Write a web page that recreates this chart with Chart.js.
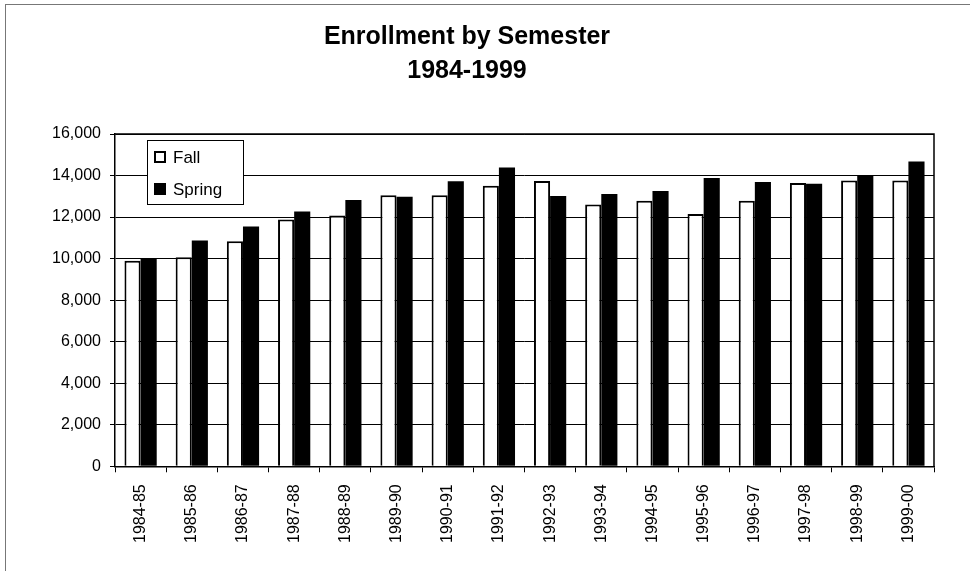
<!DOCTYPE html>
<html>
<head>
<meta charset="utf-8">
<script src="https://cdn.jsdelivr.net/npm/chart.js@4/dist/chart.umd.min.js"></script>
<style>
  html, body { margin: 0; padding: 0; background: #fff; }
  #wrap { position: relative; width: 970px; height: 571px; overflow: hidden; }
  #frame { position: absolute; left: 5px; top: 4px; width: 1000px; height: 600px;
           border-left: 1px solid #777; border-top: 1px solid #777; pointer-events: none; }
  canvas { position: absolute; left: 0; top: 0; }
</style>
</head>
<body>
<div id="wrap">
  <canvas id="c" width="970" height="571"></canvas>
  <div id="frame"></div>
</div>
<script>
const categories = ["1984-85","1985-86","1986-87","1987-88","1988-89","1989-90","1990-91","1991-92",
                    "1992-93","1993-94","1994-95","1995-96","1996-97","1997-98","1998-99","1999-00"];
const fallValues   = [9900, 10060, 10830, 11880, 12070, 13050, 13050, 13510, 13740, 12610, 12790, 12150, 12790, 13640, 13760, 13760];
const springValues = [9980, 10870, 11550, 12270, 12820, 12980, 13720, 14390, 13010, 13110, 13250, 13880, 13690, 13610, 13990, 14680];
const yTicks = [0, 2000, 4000, 6000, 8000, 10000, 12000, 14000, 16000];
const titleLines = ["Enrollment by Semester", "1984-1999"];

const FONT = "Arial, 'Liberation Sans', Helvetica, sans-serif";

const frameAndLegend = {
  id: 'frameAndLegend',
  afterDatasetsDraw(chart) {
    const {ctx, chartArea: a} = chart;
    ctx.save();
    // plot area border (top & right)
    ctx.strokeStyle = '#000';
    ctx.lineWidth = 1.5;
    ctx.beginPath();
    ctx.moveTo(a.left, a.top);
    ctx.lineTo(a.right, a.top);
    ctx.lineTo(a.right, a.bottom);
    ctx.stroke();
    // legend
    const lx = a.left + 32, ly = a.top + 6, lw = 96, lh = 64;
    ctx.fillStyle = '#fff';
    ctx.fillRect(lx, ly, lw, lh);
    ctx.lineWidth = 1;
    ctx.strokeStyle = '#000';
    ctx.strokeRect(lx + 0.5, ly + 0.5, lw, lh);
    ctx.font = "17px " + FONT;
    ctx.textBaseline = 'middle';
    ctx.textAlign = 'left';
    chart.data.datasets.forEach((ds, i) => {
      const cy = ly + 17 + i * 32;
      const bx = lx + 7;
      if (i === 0) {
        ctx.fillStyle = '#fff';
        ctx.fillRect(bx, cy - 6, 12, 12);
        ctx.lineWidth = 2;
        ctx.strokeRect(bx + 1, cy - 5, 10, 10);
      } else {
        ctx.fillStyle = '#000';
        ctx.fillRect(bx, cy - 6, 12, 12);
      }
      ctx.fillStyle = '#000';
      ctx.fillText(ds.label, bx + 19, cy + 1);
    });
    ctx.restore();
  }
};

new Chart(document.getElementById('c'), {
  type: 'bar',
  data: {
    labels: categories,
    datasets: [
      { label: 'Fall', data: fallValues, backgroundColor: '#fff', borderColor: '#000', borderWidth: 2 },
      { label: 'Spring', data: springValues, backgroundColor: '#000', borderColor: '#000', borderWidth: 0 }
    ]
  },
  options: {
    responsive: false,
    animation: false,
    datasets: { bar: { categoryPercentage: 0.63, barPercentage: 1.0 } },
    layout: { padding: { left: 0, right: 36, top: 0, bottom: 16 } },
    plugins: {
      legend: { display: false },
      tooltip: { enabled: false },
      title: {
        display: true,
        text: titleLines,
        color: '#000',
        font: { family: FONT, size: 25, weight: 'bold', lineHeight: 1.36 },
        padding: { top: 20, bottom: 46 }
      }
    },
    scales: {
      x: {
        grid: { display: true, drawOnChartArea: false, offset: true, color: '#000', lineWidth: 1, tickLength: 6 },
        border: { display: true, color: '#000', width: 1.5 },
        ticks: { color: '#000', font: { family: FONT, size: 16 }, minRotation: 90, maxRotation: 90, padding: 12, autoSkip: false }
      },
      y: {
        min: 0, max: 16000,
        afterFit(scale) { scale.width = 115; },
        afterBuildTicks(scale) { scale.ticks = yTicks.map(v => ({ value: v })); },
        grid: { color: '#000', lineWidth: 1, tickLength: 5 },
        border: { display: true, color: '#000', width: 1.5 },
        ticks: { color: '#000', font: { family: FONT, size: 16 }, padding: 9,
                 callback: (v) => Number(v).toLocaleString('en-US') }
      }
    }
  },
  plugins: [frameAndLegend]
});
</script>
</body>
</html>
